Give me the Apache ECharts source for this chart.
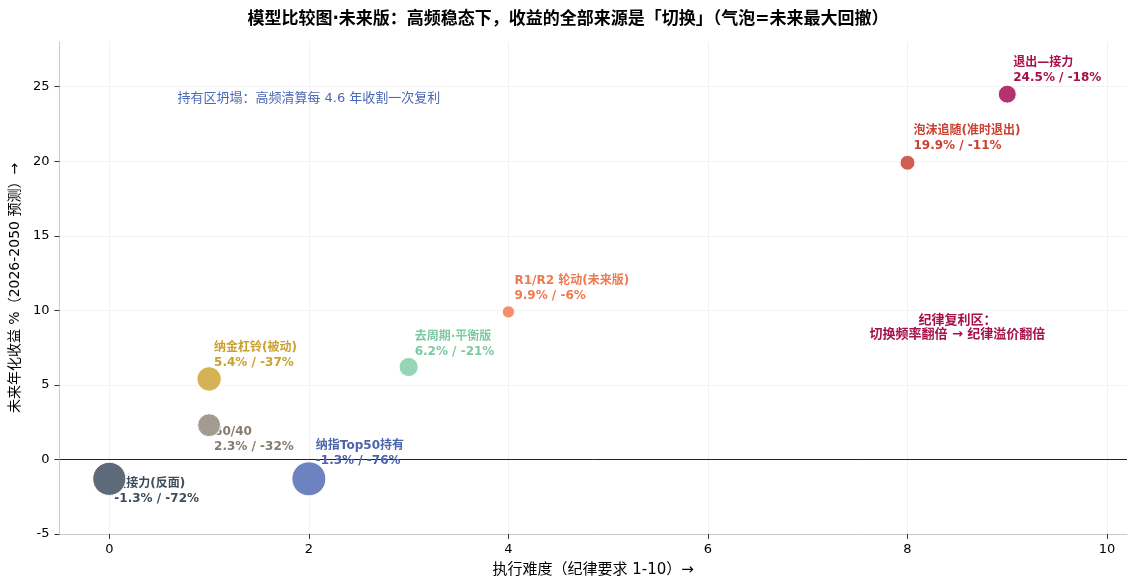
<!DOCTYPE html>
<html>
<head>
    <meta charset="utf-8">
    <title>模型比较图·未来版</title>
    <style>
        html, body { margin: 0; padding: 0; background: #fff; }
        #chart1 { width: 1136px; height: 588px; }
    </style>
</head>
<body>
<div id="chart1"></div>
<script src="https://cdn.jsdelivr.net/npm/echarts@6/dist/echarts.min.js"></script>
<script type="text/javascript">
    // 数据：执行难度、未来年化收益、最大回撤
    const names = ['慢接力(反面)', '纳指Top50持有', '60/40', '纳金杠铃(被动)', '去周期·平衡版', 'R1/R2 轮动(未来版)', '泡沫追随(准时退出)', '退出—接力'];
    const difficulty = [0, 2, 1, 1, 3, 4, 8, 9];
    const annualReturn = [-1.3, -1.3, 2.3, 5.4, 6.2, 9.9, 19.9, 24.5];
    const maxDrawdown = [72, 76, 32, 37, 21, 6, 11, 18];
    const xTicks = [0, 2, 4, 6, 8, 10];
    const yTicks = [-5, 0, 5, 10, 15, 20, 25];

    // 样式
    const bubbleColors = ['#5d6a7a', '#6c83c0', '#a39a90', '#d5b355', '#97d5b7', '#f5906f', '#ce5f51', '#b3346a'];
    const labelColors = ['#3e4c5c', '#4c64ac', '#857a6e', '#c9a12e', '#7cc9a2', '#f07850', '#c84232', '#a8104a'];
    // 标签左上角相对气泡中心的偏移(px)
    const labelOffsets = [[5, -2], [7, -40], [5, -1], [5, -39], [6, -38], [6, -38], [6, -39], [6, -39]];

    const fontFamily = '"DejaVu Sans", "Noto Sans CJK SC", sans-serif';

    let myChart1 = echarts.init(document.getElementById('chart1'));

    let points = names.map((n, i) => ({
        name: n,
        value: [difficulty[i], annualReturn[i], maxDrawdown[i]],
        itemStyle: {color: bubbleColors[i]}
    }));
    let labelPoints = names.map((n, i) => ({
        name: n,
        value: [difficulty[i], annualReturn[i], maxDrawdown[i]],
        label: {color: labelColors[i], offset: labelOffsets[i]}
    }));

    myChart1.setOption({
        animation: false,
        backgroundColor: '#fff',
        title: {
            text: '模型比较图·未来版：高频稳态下，收益的全部来源是「切换」（气泡=未来最大回撤）',
            left: 'center',
            top: 6,
            textStyle: {fontSize: 17, fontWeight: 'bold', color: '#000', fontFamily: fontFamily}
        },
        grid: {left: 57, right: 9, top: 42, bottom: 54},
        xAxis: {
            type: 'value',
            min: -0.5,
            max: 10.2,
            name: '执行难度（纪律要求 1-10）→',
            nameLocation: 'middle',
            nameGap: 29,
            nameTextStyle: {fontSize: 15, color: '#000', fontFamily: fontFamily},
            axisLine: {show: true, onZero: false, lineStyle: {color: '#cccccc'}},
            axisTick: {show: true, length: 5, lineStyle: {color: '#333'}, customValues: xTicks},
            axisLabel: {fontSize: 13, color: '#000', margin: 9, fontFamily: fontFamily, customValues: xTicks},
            splitLine: {show: false}
        },
        yAxis: {
            type: 'value',
            min: -5,
            max: 28,
            name: '未来年化收益 %（2026-2050 预测）→',
            nameLocation: 'middle',
            nameGap: 35,
            nameTextStyle: {fontSize: 14, color: '#000', fontFamily: fontFamily},
            axisLine: {show: true, onZero: false, lineStyle: {color: '#cccccc'}},
            axisTick: {show: true, length: 5, lineStyle: {color: '#333'}, customValues: yTicks},
            axisLabel: {fontSize: 13, color: '#000', margin: 10, fontFamily: fontFamily, customValues: yTicks},
            splitLine: {show: false}
        },
        series: [
            {
                // 网格线 + 零线
                type: 'line',
                data: [],
                silent: true,
                z: 0,
                markLine: {
                    symbol: 'none',
                    silent: true,
                    z: 0,
                    label: {show: false},
                    data: xTicks.map(v => ({xAxis: v, lineStyle: {color: '#f2f2f2', width: 1, type: 'solid'}}))
                        .concat(yTicks.map(v => ({yAxis: v, lineStyle: {color: '#f2f2f2', width: 1, type: 'solid'}})))
                        .concat([{yAxis: 0, lineStyle: {color: '#222', width: 1, type: 'solid'}}])
                }
            },
            {
                // 标签（置于气泡之下）
                type: 'scatter',
                data: labelPoints,
                symbolSize: 0,
                silent: true,
                z: 2,
                itemStyle: {opacity: 1},
                label: {
                    show: true,
                    position: 'inside',
                    align: 'left',
                    verticalAlign: 'top',
                    fontSize: 12,
                    fontWeight: 'bold',
                    lineHeight: 15,
                    fontFamily: fontFamily,
                    formatter: (p) => p.name + '\n' + p.value[1].toFixed(1) + '% / -' + p.value[2] + '%'
                },
                markPoint: {
                    symbol: 'circle',
                    symbolSize: 0,
                    silent: true,
                    data: [
                        {
                            coord: [2, 24.2],
                            label: {
                                show: true, position: 'inside', formatter: '持有区坍塌：高频清算每 4.6 年收割一次复利',
                                color: '#4a68b8', fontSize: 13, fontFamily: fontFamily
                            }
                        },
                        {
                            coord: [8.5, 8.85],
                            label: {
                                show: true, position: 'inside', formatter: '纪律复利区：\n切换频率翻倍 → 纪律溢价翻倍',
                                color: '#a8104a', fontSize: 13, fontWeight: 'bold', lineHeight: 14,
                                align: 'center', fontFamily: fontFamily
                            }
                        }
                    ]
                }
            },
            {
                name: '模型',
                type: 'scatter',
                data: points,
                z: 3,
                symbolSize: (val) => 2 * Math.sqrt(3.6 * val[2] + 16),
                itemStyle: {borderColor: '#fff', borderWidth: 1, opacity: 1}
            }
        ]
    });
</script>
</body>
</html>
